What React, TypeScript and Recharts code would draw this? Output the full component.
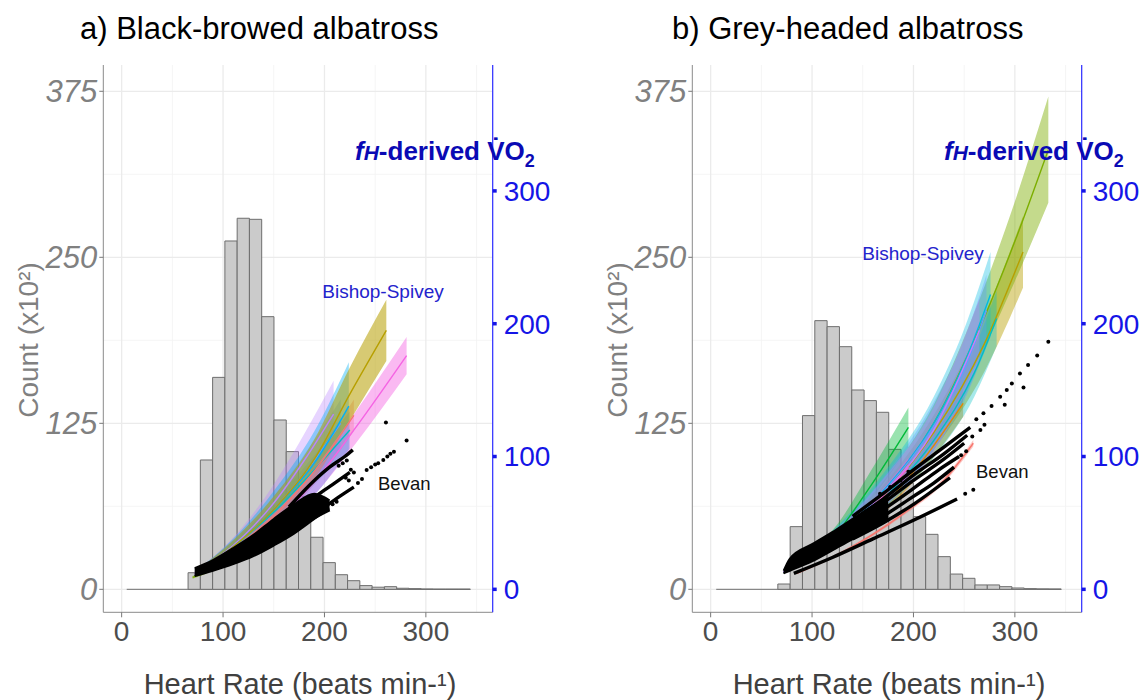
import React from 'react';
import {
  ComposedChart,
  XAxis,
  YAxis,
  Area,
  Line,
  Scatter,
  ReferenceArea,
  ReferenceLine,
} from 'recharts';

const FONT = '"Liberation Sans", Arial, Helvetica, sans-serif';

// ---------- axes ----------
const X_DOMAIN: [number, number] = [-18.1, 365.9];
const Y_DOMAIN: [number, number] = [-17.3, 394.8];
const X_TICKS = [0, 100, 200, 300];
const X_MINOR = [50, 150, 250, 350];
const Y_TICKS_COUNT = [0, 125, 250, 375];
const Y_MINOR = [62.5, 187.5, 312.5];
const Y_TICKS_VO2 = [0, 100, 200, 300];

// ---------- histogram (heart rate bins, counts x10^2) ----------
const hrBinsA = [5, 17.1, 29.2, 41.3, 53.4, 65.5, 77.6, 89.7, 101.8, 113.9, 126.0, 138.1, 150.2, 162.3,
  174.4, 186.5, 198.6, 210.7, 222.8, 234.9, 247.0, 259.1, 271.2, 283.3, 295.4, 307.5, 319.6, 331.7];
const binWidthA = 12.1;
const countsA = [0, 0, 0, 0, 0, 12.5, 97.4, 159.6, 262.3, 279.4, 278.6, 205.3, 127.5, 103.7,
  70, 39.2, 20.1, 11.0, 6.5, 2.8, 1.6, 2.0, 0.8, 0.5, 0.2, 0.1, 0.1, 0.1];

const hrBinsB = [5.5, 17.65, 29.8, 41.95, 54.1, 66.25, 78.4, 90.55, 102.7, 114.85, 127.0, 139.15, 151.3, 163.45,
  175.6, 187.75, 199.9, 212.05, 224.2, 236.35, 248.5, 260.65, 272.8, 284.95, 297.1, 309.25, 321.4, 333.55];
const binWidthB = 12.15;
const countsB = [0, 0, 0, 0, 0, 4.0, 47.2, 130.8, 202.3, 197.8, 182.7, 150.1, 142.1, 133.3,
  105.4, 80, 54.7, 41.4, 24.6, 11.5, 8.3, 3.3, 3.3, 2.0, 1.0, 0.5, 0.3, 0.2];

// ---------- Bishop-Spivey model curves (VO2 vs heart rate), with band half-widths ----------
type Curve = { color: string; op: number; x: number[]; y: number[]; hw: number[] };

const goldA_x = [72, 110, 150, 190, 225, 261];
const goldA_y = [12, 32, 60, 98, 147, 195];
const goldA_hw = [1, 5, 10, 15, 20, 23];
const pinkA_x = [72, 110, 150, 190, 230, 281];
const pinkA_y = [12, 29, 51, 81, 121, 176];
const pinkA_hw = [1, 4, 7, 10, 12, 14];
const skyA_x = [72, 110, 150, 190, 224];
const skyA_y = [12, 32, 60, 95, 138];
const skyA_hw = [1, 6, 14, 24, 33];
const lavA_x = [72, 110, 150, 180, 209];
const lavA_y = [12, 33, 65, 97, 132];
const lavA_hw = [1, 6, 14, 20, 25];
const blueA_x = [72, 110, 150, 185, 216];
const blueA_y = [12, 32, 60, 92, 125];
const blueA_hw = [1, 5, 10, 15, 18];
const redA_x = [72, 110, 150, 190, 229];
const redA_y = [12, 30, 55, 89, 131];
const redA_hw = [1, 4, 7, 10, 12];
const tealA_x = [72, 110, 150, 190, 225];
const tealA_y = [12, 32, 58, 90, 120];
const tealA_hw = [1, 4, 8, 11, 14];
const greenA_x = [70, 84];
const greenA_y = [9, 13];
const greenA_hw = [1, 1];

const oliveB_x = [72, 120, 170, 220, 270, 300, 333];
const oliveB_y = [13, 37, 72, 125, 205, 262, 331];
const oliveB_hw = [1, 4, 9, 14, 23, 30, 40];
const goldB_x = [72, 120, 170, 220, 270, 308];
const goldB_y = [13, 36, 70, 118, 185, 254];
const goldB_hw = [1, 4, 8, 13, 21, 27];
const tealB_x = [72, 120, 170, 220, 260, 282];
const tealB_y = [13, 36, 68, 112, 163, 204];
const tealB_hw = [1, 4, 8, 13, 18, 21];
const skyB_x = [72, 120, 170, 220, 250, 276];
const skyB_y = [13, 38, 74, 125, 170, 222];
const skyB_hw = [1, 6, 13, 20, 26, 32];
const blueB_x = [72, 120, 170, 220, 250, 272];
const blueB_y = [13, 38, 73, 123, 165, 210];
const blueB_hw = [1, 5, 11, 18, 23, 27];
const lavB_x = [72, 120, 170, 220, 265];
const lavB_y = [13, 37, 72, 120, 195];
const lavB_hw = [1, 5, 11, 17, 24];
const orangeB_x = [72, 120, 170, 210, 249];
const orangeB_y = [13, 34, 63, 98, 140];
const orangeB_hw = [1, 3, 6, 8, 10];
const greenB_x = [72, 124, 157, 195];
const greenB_y = [13, 42, 77, 122];
const greenB_hw = [1, 6, 11, 15];
const magentaB_x = [72, 120, 160, 195];
const magentaB_y = [13, 35, 62, 92];
const magentaB_hw = [1, 3, 5, 7];
const redB_x = [85, 130, 190, 230, 259];
const redB_y = [12, 28, 57, 82, 110];
const redB_hw = [0.5, 1, 1.5, 2, 2.5];

const curvesA: Curve[] = [
  { color: '#00BFC4', op: 0.35, x: tealA_x, y: tealA_y, hw: tealA_hw },
  { color: '#F8766D', op: 0.35, x: redA_x, y: redA_y, hw: redA_hw },
  { color: '#619CFF', op: 0.35, x: blueA_x, y: blueA_y, hw: blueA_hw },
  { color: '#B983FF', op: 0.35, x: lavA_x, y: lavA_y, hw: lavA_hw },
  { color: '#00B0F6', op: 0.4, x: skyA_x, y: skyA_y, hw: skyA_hw },
  { color: '#B79F00', op: 0.55, x: goldA_x, y: goldA_y, hw: goldA_hw },
  { color: '#F564E3', op: 0.45, x: pinkA_x, y: pinkA_y, hw: pinkA_hw },
  { color: '#7CAE00', op: 0.5, x: greenA_x, y: greenA_y, hw: greenA_hw },
];

const curvesB: Curve[] = [
  { color: '#F8766D', op: 0.4, x: redB_x, y: redB_y, hw: redB_hw },
  { color: '#E58700', op: 0.5, x: orangeB_x, y: orangeB_y, hw: orangeB_hw },
  { color: '#00BA38', op: 0.4, x: greenB_x, y: greenB_y, hw: greenB_hw },
  { color: '#B79F00', op: 0.45, x: goldB_x, y: goldB_y, hw: goldB_hw },
  { color: '#7CAE00', op: 0.45, x: oliveB_x, y: oliveB_y, hw: oliveB_hw },
  { color: '#00BFC4', op: 0.35, x: tealB_x, y: tealB_y, hw: tealB_hw },
  { color: '#00B9E3', op: 0.35, x: skyB_x, y: skyB_y, hw: skyB_hw },
  { color: '#619CFF', op: 0.35, x: blueB_x, y: blueB_y, hw: blueB_hw },
  { color: '#C77CFF', op: 0.35, x: lavB_x, y: lavB_y, hw: lavB_hw },
  { color: '#F564E3', op: 0.45, x: magentaB_x, y: magentaB_y, hw: magentaB_hw },
];

// ---------- Bevan (black points) ----------
const bevanMassA_x = [72, 90, 110, 130, 150, 170, 190, 205];
const bevanMassA_lo = [10, 14, 19, 25, 33, 42, 53, 61];
const bevanMassA_hi = [16, 22, 31, 41, 53, 64, 72, 67];
const bevanStripesA_x = [
  [165, 190, 205, 220, 228],
  [170, 195, 210, 225],
  [175, 200, 215, 229],
  [170, 190, 205],
];
const bevanStripesA_y = [
  [62, 82, 92, 100, 105],
  [56, 72, 80, 88],
  [50, 62, 70, 77],
  [44, 54, 60],
];
const bevanDotsA_x = [233, 237, 241.6, 246, 250, 253, 258, 262, 265, 268.5, 260.6, 281, 214, 218, 222, 226, 229, 221, 224, 208, 212];
const bevanDotsA_y = [80, 83, 89.8, 92, 94, 95, 97.4, 100, 102, 103.6, 125.7, 112, 93, 95, 97, 90, 88, 84, 82, 64, 66];

const bevanMassB_x = [72, 78, 100, 124, 150, 175];
const bevanMassB_lo = [12, 14, 21, 31, 42, 52];
const bevanMassB_hi = [14, 23, 34, 45, 58, 70];
const bevanStripesB_x = [
  [82, 120, 160, 200, 243],
  [140, 170, 200, 230, 256],
  [140, 170, 200, 230, 253],
  [140, 170, 200, 230, 250],
  [140, 170, 200, 225, 245],
  [140, 170, 200, 220, 240],
  [140, 170, 200, 236],
];
const bevanStripesB_y = [
  [12, 24, 38, 52, 68],
  [55, 72, 90, 107, 122],
  [52, 68, 86, 102, 116],
  [50, 65, 82, 98, 110],
  [46, 60, 76, 90, 100],
  [42, 55, 70, 80, 92],
  [38, 50, 64, 84],
];
const bevanDotsB_x = [251, 259, 266, 270, 269, 277, 285.5, 290, 292, 297, 305, 308.5, 313, 322, 333, 167, 177, 187, 195, 247, 252, 262, 258];
const bevanDotsB_y = [72, 75, 120, 124, 132.5, 138, 145, 139, 150, 155, 162.6, 152, 169, 176, 186.4, 72, 77, 82, 88.6, 101, 104, 128, 115];

// ---------- helpers ----------
const curveRows = (c: Curve) => c.x.map((x, i) => ({ x, y: c.y[i], band: [c.y[i] - c.hw[i], c.y[i] + c.hw[i]] }));
const massRows = (xs: number[], lo: number[], hi: number[]) => xs.map((x, i) => ({ x, band: [lo[i], hi[i]] }));
const lineRows = (xs: number[], ys: number[]) => xs.map((x, i) => ({ x, y: ys[i] }));

const Dot = (p: any) => <circle cx={p.cx} cy={p.cy} r={2} fill="#000" />;

type PanelProps = {
  left: number;
  width: number;
  rightAxisWidth: number;
  hrBins: number[];
  binWidth: number;
  counts: number[];
  curves: Curve[];
  mass: { x: number[]; lo: number[]; hi: number[] };
  stripesX: number[][];
  stripesY: number[][];
  dotsX: number[];
  dotsY: number[];
};

function Panel(props: PanelProps) {
  const { left, width, rightAxisWidth, hrBins, binWidth, counts, curves, mass, stripesX, stripesY, dotsX, dotsY } = props;
  const gridMajor = '#EBEBEB';
  const gridMinor = '#F3F3F3';
  const blue = '#1515E6';
  return (
    <div style={{ position: 'absolute', left, top: 0 }}>
      <ComposedChart width={width} height={700} margin={{ top: 65, right: 0, bottom: 0, left: 0 }}>
        <XAxis
          type="number"
          dataKey="x"
          domain={X_DOMAIN}
          ticks={X_TICKS}
          interval={0}
          allowDataOverflow
          height={87.7}
          tick={{ fontSize: 28, fill: '#4D4D4D', fontFamily: FONT }}
          tickLine={{ stroke: '#777' }}
          tickSize={5}
          tickMargin={4}
          axisLine={{ stroke: '#8A8A8A' }}
        />
        <XAxis
          xAxisId="top"
          orientation="top"
          type="number"
          domain={X_DOMAIN}
          allowDataOverflow
          height={0}
          tick={false}
          tickLine={false}
          axisLine={{ stroke: '#8A8A8A' }}
        />
        <YAxis
          dataKey="y"
          type="number"
          domain={Y_DOMAIN}
          ticks={Y_TICKS_COUNT}
          interval={0}
          allowDataOverflow
          width={103.3}
          tick={{ fontSize: 31, fill: '#808080', fontStyle: 'italic', fontFamily: FONT }}
          tickLine={{ stroke: '#777' }}
          tickSize={4}
          tickMargin={2}
          axisLine={{ stroke: '#8A8A8A' }}
        />
        <YAxis
          yAxisId="vo2"
          orientation="right"
          type="number"
          domain={Y_DOMAIN}
          ticks={Y_TICKS_VO2}
          interval={0}
          allowDataOverflow
          width={rightAxisWidth}
          tick={{ fontSize: 28, fill: blue, fontFamily: FONT }}
          tickLine={{ stroke: blue, strokeWidth: 3.5 }}
          tickSize={4}
          tickMargin={7}
          axisLine={{ stroke: '#2B2BFF', strokeWidth: 1.2 }}
        />

        {X_MINOR.map((v) => (
          <ReferenceLine key={'xm' + v} x={v} stroke={gridMinor} strokeWidth={0.8} zIndex={-100} />
        ))}
        {Y_MINOR.map((v) => (
          <ReferenceLine key={'ym' + v} y={v} stroke={gridMinor} strokeWidth={0.8} zIndex={-100} />
        ))}
        {X_TICKS.map((v) => (
          <ReferenceLine key={'xg' + v} x={v} stroke={gridMajor} strokeWidth={1.3} zIndex={-100} />
        ))}
        {Y_TICKS_COUNT.map((v) => (
          <ReferenceLine key={'yg' + v} y={v} stroke={gridMajor} strokeWidth={1.3} zIndex={-100} />
        ))}

        <ReferenceLine
          segment={[{ x: hrBins[0], y: 0 }, { x: hrBins[hrBins.length - 1] + binWidth, y: 0 }]}
          stroke="#707070"
          strokeWidth={1}
          zIndex={-60}
        />
        {hrBins.map((b, i) =>
          counts[i] > 0 ? (
            <ReferenceArea
              key={'h' + i}
              x1={b}
              x2={b + binWidth}
              y1={0}
              y2={counts[i]}
              fill="#CBCBCB"
              fillOpacity={1}
              stroke="#6E6E6E"
              strokeWidth={1}
              strokeOpacity={1}
              zIndex={-50}
            />
          ) : null
        )}

        {curves.map((c, i) => (
          <Area
            key={'band' + i}
            data={curveRows(c)}
            dataKey="band"
            type="monotone"
            fill={c.color}
            fillOpacity={c.op}
            stroke="none"
            isAnimationActive={false}
            activeDot={false}
            zIndex={100}
          />
        ))}
        {curves.map((c, i) => (
          <Line
            key={'line' + i}
            data={curveRows(c)}
            dataKey="y"
            type="monotone"
            stroke={c.color}
            strokeWidth={1.4}
            dot={false}
            activeDot={false}
            isAnimationActive={false}
            zIndex={400}
          />
        ))}

        <Area
          data={massRows(mass.x, mass.lo, mass.hi)}
          dataKey="band"
          type="monotone"
          fill="#000"
          fillOpacity={1}
          stroke="#000"
          strokeWidth={2}
          isAnimationActive={false}
          activeDot={false}
          zIndex={450}
        />
        {stripesX.map((xs, i) => (
          <Line
            key={'stripe' + i}
            data={lineRows(xs, stripesY[i])}
            dataKey="y"
            type="monotone"
            stroke="#000"
            strokeWidth={3.4}
            dot={false}
            activeDot={false}
            isAnimationActive={false}
            zIndex={460}
          />
        ))}
        <Scatter
          data={lineRows(dotsX, dotsY)}
          dataKey="y"
          fill="#000"
          shape={Dot}
          isAnimationActive={false}
          zIndex={600}
        />
      </ComposedChart>
    </div>
  );
}

function VO2Label({ x, y }: { x: number; y: number }) {
  return (
    <text x={x} y={y} fontSize={26} fontWeight="bold" fill="#0A0AB4" fontFamily={FONT}>
      <tspan fontStyle="italic">f</tspan>
      <tspan fontStyle="italic" fontSize={21}>H</tspan>
      <tspan>-derived </tspan>
      <tspan>{'V\u0307O'}</tspan>
      <tspan dy={7} fontSize={18}>2</tspan>
    </text>
  );
}

export default function App() {
  return (
    <div style={{ position: 'absolute', left: 0, top: 0, width: 1143, height: 700, background: '#fff' }}>
      <Panel
        left={0}
        width={570}
        rightAxisWidth={77.3}
        hrBins={hrBinsA}
        binWidth={binWidthA}
        counts={countsA}
        curves={curvesA}
        mass={{ x: bevanMassA_x, lo: bevanMassA_lo, hi: bevanMassA_hi }}
        stripesX={bevanStripesA_x}
        stripesY={bevanStripesA_y}
        dotsX={bevanDotsA_x}
        dotsY={bevanDotsA_y}
      />
      <Panel
        left={589}
        width={554}
        rightAxisWidth={61.3}
        hrBins={hrBinsB}
        binWidth={binWidthB}
        counts={countsB}
        curves={curvesB}
        mass={{ x: bevanMassB_x, lo: bevanMassB_lo, hi: bevanMassB_hi }}
        stripesX={bevanStripesB_x}
        stripesY={bevanStripesB_y}
        dotsX={bevanDotsB_x}
        dotsY={bevanDotsB_y}
      />
      <svg
        width={1143}
        height={700}
        style={{ position: 'absolute', left: 0, top: 0, pointerEvents: 'none' }}
        fontFamily={FONT}
      >
        <text x={80} y={39} fontSize={31} fill="#000">a) Black-browed albatross</text>
        <text x={672} y={39} fontSize={31} fill="#000">b) Grey-headed albatross</text>

        <text x={38} y={340} fontSize={28} fill="#808080" textAnchor="middle" transform="rotate(-90 38 340)">
          Count (x10²)
        </text>
        <text x={627} y={340} fontSize={28} fill="#808080" textAnchor="middle" transform="rotate(-90 627 340)">
          Count (x10²)
        </text>

        <text x={300} y={694} fontSize={29} fill="#404040" textAnchor="middle">Heart Rate (beats min-¹)</text>
        <text x={889} y={694} fontSize={29} fill="#404040" textAnchor="middle">Heart Rate (beats min-¹)</text>

        <VO2Label x={355} y={160} />
        <VO2Label x={944} y={160} />

        <text x={383} y={298} fontSize={19} fill="#2323CC" textAnchor="middle">Bishop-Spivey</text>
        <text x={923} y={260} fontSize={19} fill="#2323CC" textAnchor="middle">Bishop-Spivey</text>

        <text x={378} y={490} fontSize={18.5} fill="#111">Bevan</text>
        <text x={976} y={478} fontSize={18.5} fill="#111">Bevan</text>
      </svg>
    </div>
  );
}
